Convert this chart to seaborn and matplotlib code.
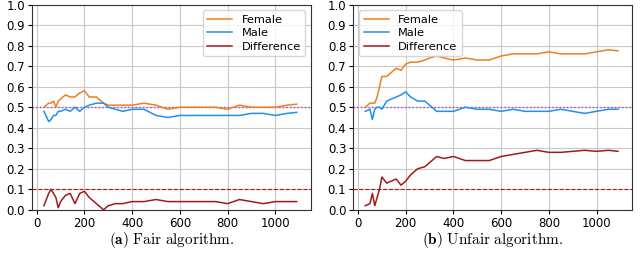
import numpy as np
import pandas as pd
import matplotlib
matplotlib.use("Agg")
import matplotlib.pyplot as plt
import seaborn as sns

# shared x grid (number of decisions)
steps = [30, 50, 60, 70, 80, 90, 100, 120, 140, 160, 180, 200, 220, 250, 280, 300,
         330, 360, 400, 450, 500, 550, 600, 650, 700, 750, 800, 850, 900, 950, 1000, 1050, 1090]

# (a) fair algorithm
fair_female = [.50, .52, .52, .53, .50, .53, .54, .56, .55, .55, .57, .58, .55, .55, .52, .51,
               .51, .51, .51, .52, .51, .49, .50, .50, .50, .50, .49, .51, .50, .50, .50, .51, .515]
fair_male = [.48, .43, .44, .46, .46, .48, .48, .49, .48, .50, .48, .50, .51, .52, .52, .50,
             .49, .48, .49, .49, .46, .45, .46, .46, .46, .46, .46, .46, .47, .47, .46, .47, .475]
fair_diff = [.02, .08, .10, .08, .06, .01, .04, .07, .08, .03, .08, .09, .06, .03, .00, .02,
             .03, .03, .04, .04, .05, .04, .04, .04, .04, .04, .03, .05, .04, .03, .04, .04, .04]

# (b) unfair algorithm
unfair_female = [.50, .52, .52, .52, .55, .60, .65, .65, .67, .69, .68, .71, .72, .72, .73, .74,
                 .75, .74, .73, .74, .73, .73, .75, .76, .76, .76, .77, .76, .76, .76, .77, .78, .775]
unfair_male = [.48, .49, .44, .49, .50, .50, .49, .53, .54, .55, .56, .575, .55, .53, .53, .51,
               .48, .48, .48, .50, .49, .49, .48, .49, .48, .48, .48, .49, .48, .47, .48, .49, .49]
unfair_diff = [.02, .03, .08, .02, .06, .10, .16, .13, .14, .15, .12, .14, .17, .20, .21, .23,
               .26, .25, .26, .24, .24, .24, .26, .27, .28, .29, .28, .28, .285, .29, .285, .29, .285]

groups = ["Female", "Male", "Difference"]
colors = {"Female": "#f07f1c", "Male": "#1f8ff0", "Difference": "#a31a1a"}


def to_long(female, male, diff):
    return pd.DataFrame({
        "step": steps * 3,
        "value": female + male + diff,
        "group": ["Female"] * len(steps) + ["Male"] * len(steps) + ["Difference"] * len(steps),
    })


panels = [
    (to_long(fair_female, fair_male, fair_diff), "upper right", r"$\mathbf{(a)}\ \mathrm{Fair\ algorithm.}$"),
    (to_long(unfair_female, unfair_male, unfair_diff), "upper left", r"$\mathbf{(b)}\ \mathrm{Unfair\ algorithm.}$"),
]

plt.rcParams["mathtext.fontset"] = "cm"
plt.rcParams["font.family"] = ["DejaVu Sans"]

fig = plt.figure(figsize=(6.4, 2.59), dpi=100)
lefts = [0.05, 0.552]
for (df, loc, caption), left in zip(panels, lefts):
    ax = fig.add_axes([left, 0.19, 0.436, 0.792])
    ax.axhline(0.5, color="#b040d0", linestyle=":", linewidth=1.0, zorder=1)
    ax.axhline(0.1, color="#a31a1a", linestyle="--", linewidth=0.8, zorder=1)
    sns.lineplot(data=df, x="step", y="value", hue="group", hue_order=groups,
                 palette=colors, linewidth=1.1, ax=ax)
    ax.set_xlim(-20, 1150)
    ax.set_ylim(0, 1.0)
    ax.set_yticks(np.arange(0, 1.01, 0.1))
    ax.set_xticks([0, 200, 400, 600, 800, 1000])
    ax.grid(True, color="#c8c8c8", linewidth=0.8)
    ax.set_axisbelow(True)
    ax.tick_params(labelsize=8.5, length=3, pad=2)
    ax.set_xlabel("")
    ax.set_ylabel("")
    for sp in ax.spines.values():
        sp.set_color("#333333")
        sp.set_linewidth(0.8)
    leg = ax.legend(loc=loc, fontsize=8.2, frameon=True, handlelength=2.2, borderpad=0.4,
                    labelspacing=0.3)
    leg.get_frame().set_edgecolor("#cccccc")
    fig.text(left + 0.218, 0.072, caption, ha="center", va="center", fontsize=11)

fig.savefig("out.png", dpi=100)
